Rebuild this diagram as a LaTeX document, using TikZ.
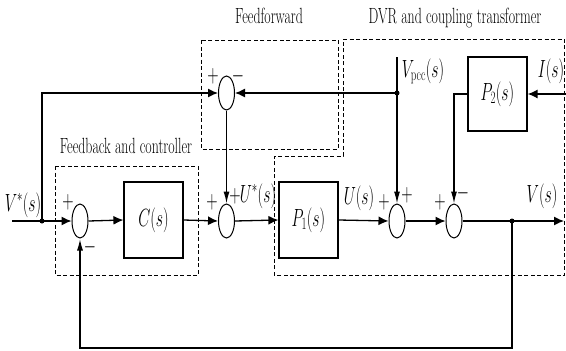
\documentclass[tikz,border=0pt]{standalone}
\usepackage{graphicx}
\usetikzlibrary{arrows.meta,shapes.geometric}
\newcommand\tx[1]{\scalebox{0.63}[1]{\fontsize{22}{26}\selectfont #1}}
\newcommand\mth[1]{\scalebox{0.63}[1]{\fontsize{25}{30}\selectfont $#1$}}
\tikzset{
  sumj/.style={draw,ellipse,minimum width=16pt,minimum height=34pt,inner sep=0pt,line width=1pt},
  blk/.style={draw,rectangle,line width=1.2pt,inner sep=0pt},
  grp/.style={draw,dashed,dash pattern=on 4pt off 2.5pt,line width=0.9pt},
  sig/.style={line width=1.3pt},
  harr/.style={sig,-{Latex[length=10pt,width=9pt]}},
  varr/.style={sig,-{Latex[length=12pt,width=6pt]}},
  dotn/.style={circle,fill,inner sep=0pt,minimum size=5pt},
  lbl/.style={inner sep=0pt,anchor=base},
  sgn/.style={inner sep=0pt}
}
\begin{document}
\begin{tikzpicture}[x=1pt,y=-1pt]
\useasboundingbox (0,0) rectangle (566,351);
% groups
\draw[grp] (201,40) rectangle (338,149);
\draw[grp] (55,166) rectangle (198,275);
\draw[grp] (343,39) -- (564.5,39) -- (564.5,275) -- (274,275) -- (274,156) -- (343,156) -- cycle;
\node[lbl] (tff) at (269,23) {\tx{Feedforward}};
\node[lbl] (tdvr) at (455,23) {\tx{DVR and coupling transformer}};
\node[lbl] (tfb) at (126,153) {\tx{Feedback and controller}};
% junctions and blocks
\node[sumj] (j1) at (80,221) {};
\node[sumj] (j2) at (226.5,221) {};
\node[sumj] (jf) at (226.5,93) {};
\node[sumj] (j3) at (397,221) {};
\node[sumj] (j4) at (454,221) {};
\node[blk,minimum width=59pt,minimum height=76pt] (c) at (153.5,220) {\mth{C(s)}};
\node[blk,minimum width=59pt,minimum height=76pt] (p1) at (308.5,220) {\mth{P_1(s)}};
\node[blk,minimum width=59pt,minimum height=74pt] (p2) at (497.5,94) {\mth{P_2(s)}};
% coordinates and dots
\coordinate (in) at (12,221);
\node[dotn] (d1) at (42,221) {};
\coordinate (c1) at (42,93);
\coordinate (vtop) at (397,57);
\node[dotn] (dv) at (397,93) {};
\coordinate (iin) at (566,94);
\coordinate (c2) at (454,94);
\node[dotn] (dout) at (512,221) {};
\coordinate (out) at (564,221);
\coordinate (fb1) at (512,348);
\coordinate (fb2) at (80,348);
% connectors
\draw[harr] (in) -- (j1.west);
\draw[harr] (d1.center) -- (c1) -- (jf.west);
\draw[varr] (vtop) -- (j3.north);
\draw[harr] (dv.center) -- (jf.east);
\draw[harr] (iin) -- (p2.east);
\draw[varr] (p2.west) -- (c2) -- (j4.north);
\draw[varr] (jf.south) -- (j2.north);
\draw[harr] (j1.east) -- (c.west);
\draw[harr] (c.east) -- (j2.west);
\draw[harr] (j2.east) -- (p1.west);
\draw[harr] (p1.east) -- (j3.west);
\draw[harr] (j3.east) -- (j4.west);
\draw[harr] (j4.east) -- (out);
\draw[sig,line width=1.6pt,-{Latex[length=12pt,width=6pt]}] (dout.center) -- (fb1) -- (fb2) -- (j1.south);
% signs
\node[sgn] at (68,202) {\mth{+}};
\node[sgn] at (90,247) {\mth{-}};
\node[sgn] at (213,76) {\mth{+}};
\node[sgn] at (238,76) {\mth{-}};
\node[sgn] at (212,202) {\mth{+}};
\node[sgn] at (235,196) {\mth{+}};
\node[sgn] at (384,202) {\mth{+}};
\node[sgn] at (407,195) {\mth{+}};
\node[sgn] at (440,202) {\mth{+}};
\node[sgn] at (463,193) {\mth{-}};
% signal labels
\node[lbl] (lv) at (23,211) {\mth{V^*(s)}};
\node[lbl] (lu) at (258,202) {\mth{U^*(s)}};
\node[lbl] (lu1) at (359,204) {\mth{U(s)}};
\node[lbl] (lvo) at (542,202) {\mth{V(s)}};
\node[lbl] (lvp) at (423,77) {\mth{V_{\mathrm{pcc}}(s)}};
\node[lbl] (li) at (551,77) {\mth{I(s)}};
\end{tikzpicture}
\end{document}
